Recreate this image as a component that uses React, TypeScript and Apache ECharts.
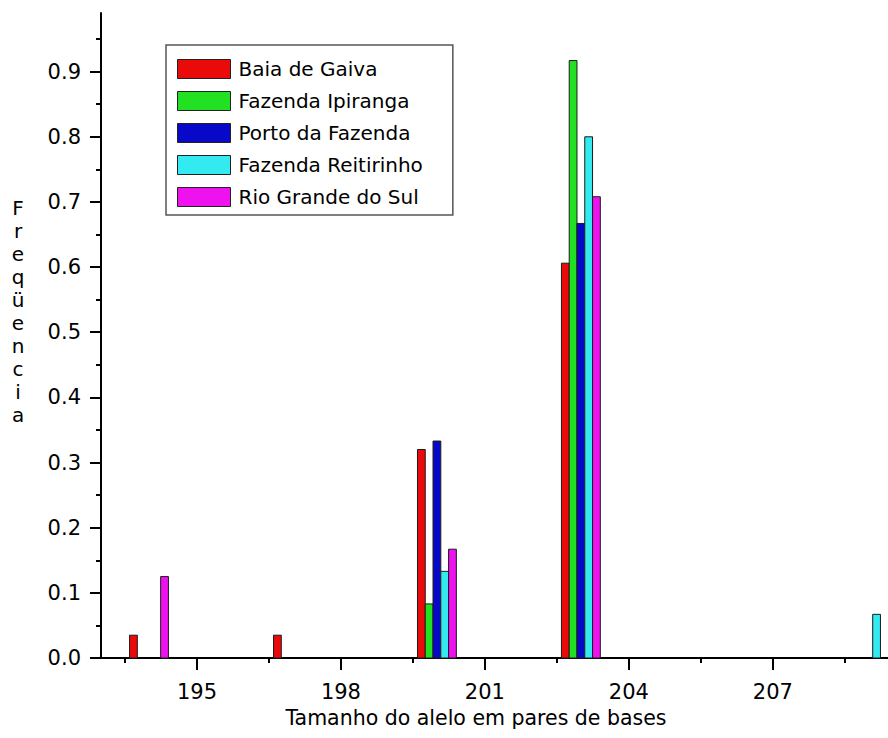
import React, { useEffect, useRef } from "react";
import * as echarts from "echarts";

// Allele sizes (bp) and the frequency of each allele per population
const ALLELES = [194, 197, 200, 203, 209];
const POPULATIONS = [
  "Baia de Gaiva",
  "Fazenda Ipiranga",
  "Porto da Fazenda",
  "Fazenda Reitirinho",
  "Rio Grande do Sul",
];
const BAIA_DE_GAIVA = [0.035, 0.035, 0.32, 0.606, 0];
const FAZENDA_IPIRANGA = [0, 0, 0.083, 0.917, 0];
const PORTO_DA_FAZENDA = [0, 0, 0.333, 0.667, 0];
const FAZENDA_REITIRINHO = [0, 0, 0.133, 0.8, 0.067];
const RIO_GRANDE_DO_SUL = [0.125, 0, 0.167, 0.708, 0];
const FREQUENCIES = [
  BAIA_DE_GAIVA,
  FAZENDA_IPIRANGA,
  PORTO_DA_FAZENDA,
  FAZENDA_REITIRINHO,
  RIO_GRANDE_DO_SUL,
];
const COLORS = ["#EA0A0A", "#22E022", "#0808C8", "#33EAF0", "#EE12EE"];

// Axis ticks
const X_TICKS = [195, 198, 201, 204, 207];
const X_MINOR_TICKS = [193.5, 196.5, 199.5, 202.5, 205.5, 208.5];
const Y_TICKS = [0, 0.1, 0.2, 0.3, 0.4, 0.5, 0.6, 0.7, 0.8, 0.9];
const Y_MINOR_TICKS = [0.05, 0.15, 0.25, 0.35, 0.45, 0.55, 0.65, 0.75, 0.85, 0.95];

const X_MIN = 193;
const X_MAX = 209.4;
const Y_MIN = 0;
const Y_MAX = 0.99;

// width of one bar, in base pairs
const SLOT = 0.162;
const FONT = "DejaVu Sans";

export default function App() {
  const ref = useRef<HTMLDivElement>(null);

  useEffect(() => {
    if (!ref.current) return;
    const chart = echarts.init(ref.current, null, { renderer: "svg" });

    const series = POPULATIONS.map((name, k) => ({
      name,
      type: "custom",
      xAxisIndex: 0,
      yAxisIndex: 0,
      itemStyle: { color: COLORS[k] },
      encode: { x: 0, y: 1 },
      data: ALLELES.map((a, i) => [a, FREQUENCIES[k][i]]).filter((d) => d[1] > 0),
      renderItem: (params: any, api: any) => {
        const x = api.value(0);
        const y = api.value(1);
        const slot = api.size([SLOT, 0])[0];
        const base = api.coord([x, 0]);
        const top = api.coord([x, y]);
        const cx = base[0] + (k - 2) * slot;
        return {
          type: "rect",
          shape: { x: cx - slot / 2, y: top[1], width: slot, height: base[1] - top[1] },
          style: { fill: api.visual("color"), stroke: "#1c1c1c", lineWidth: 1 },
        };
      },
    }));

    const axisLine = { show: true, onZero: false, lineStyle: { color: "#000", width: 2 } };

    chart.setOption({
      animation: false,
      backgroundColor: "#fff",
      grid: { left: 101, right: 0, top: 13, bottom: 80, containLabel: false },
      legend: {
        orient: "vertical",
        left: 166,
        top: 45,
        padding: [14, 30, 8, 11],
        itemWidth: 53,
        itemHeight: 19,
        itemGap: 12,
        icon: "rect",
        backgroundColor: "#fff",
        borderColor: "#555",
        borderWidth: 1.5,
        borderRadius: 0,
        itemStyle: { borderColor: "#222", borderWidth: 1 },
        textStyle: {
          fontFamily: FONT,
          fontSize: 20,
          color: "#000",
          lineHeight: 19,
          padding: [0, 0, 0, 3],
        },
        data: POPULATIONS,
      },
      xAxis: [
        {
          type: "value",
          min: X_MIN,
          max: X_MAX,
          position: "bottom",
          axisLine,
          axisTick: { show: true, customValues: X_TICKS, length: 12, lineStyle: { color: "#000", width: 2 } },
          axisLabel: {
            customValues: X_TICKS,
            margin: 23,
            fontFamily: FONT,
            fontSize: 21,
            color: "#000",
          },
          splitLine: { show: false },
        },
        {
          type: "value",
          min: X_MIN,
          max: X_MAX,
          position: "bottom",
          axisLine: { show: false },
          axisTick: { show: true, customValues: X_MINOR_TICKS, length: 5, lineStyle: { color: "#000", width: 2 } },
          axisLabel: { show: false },
          splitLine: { show: false },
        },
      ],
      yAxis: [
        {
          type: "value",
          min: Y_MIN,
          max: Y_MAX,
          position: "left",
          axisLine,
          axisTick: { show: true, customValues: Y_TICKS, length: 11, lineStyle: { color: "#000", width: 2 } },
          axisLabel: {
            customValues: Y_TICKS,
            formatter: (v: number) => v.toFixed(1),
            margin: 20,
            fontFamily: FONT,
            fontSize: 21,
            color: "#000",
          },
          splitLine: { show: false },
        },
        {
          type: "value",
          min: Y_MIN,
          max: Y_MAX,
          position: "left",
          axisLine: { show: false },
          axisTick: { show: true, customValues: Y_MINOR_TICKS, length: 5, lineStyle: { color: "#000", width: 2 } },
          axisLabel: { show: false },
          splitLine: { show: false },
        },
      ],
      graphic: [
        {
          type: "text",
          x: 476,
          y: 718,
          style: {
            text: "Tamanho do alelo em pares de bases",
            fontFamily: FONT,
            fontSize: 20.5,
            fill: "#000",
            textAlign: "center",
            textVerticalAlign: "middle",
          },
        },
        {
          type: "text",
          x: 18,
          y: 196,
          style: {
            text: "F\nr\ne\nq\nü\ne\nn\nc\ni\na",
            fontFamily: FONT,
            fontSize: 20,
            lineHeight: 23,
            fill: "#000",
            textAlign: "center",
            textVerticalAlign: "top",
          },
        },
      ],
      series,
    });

    return () => chart.dispose();
  }, []);

  return (
    <div
      ref={ref}
      style={{ position: "absolute", left: 0, top: 0, width: 888, height: 738, background: "#fff" }}
    />
  );
}
